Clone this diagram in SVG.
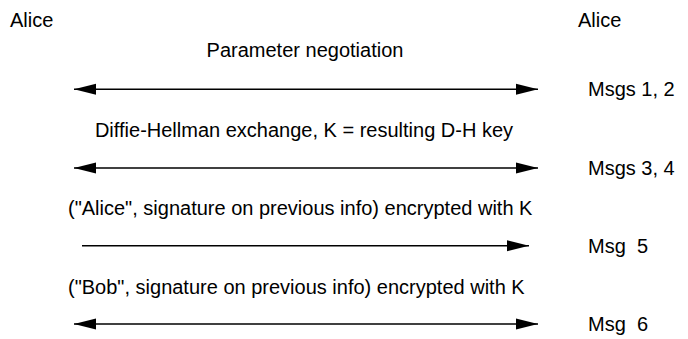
<svg xmlns="http://www.w3.org/2000/svg" width="688" height="339" viewBox="0 0 688 339">
<style>
text{font-family:"Liberation Sans",Arial,sans-serif;font-size:20px;fill:#000}
.c{text-anchor:middle}
.ln{stroke:#000;stroke-width:1.6;fill:none}
</style>
<defs>
<marker id="ah" markerUnits="userSpaceOnUse" markerWidth="22" markerHeight="12" refX="22" refY="6" orient="auto-start-reverse" viewBox="0 0 22 12">
<path d="M0,0.5 L22,6 L0,11.5 z" fill="#000"/>
</marker>
</defs>
<rect width="688" height="339" fill="#fff"/>
<g id="alice-left"><text x="10" y="27">Alice</text></g>
<g id="alice-right"><text x="578" y="27">Alice</text></g>
<g id="connectors">
<line class="ln" x1="74" y1="89.3" x2="538" y2="89.3" marker-start="url(#ah)" marker-end="url(#ah)"/>
<line class="ln" x1="74" y1="168" x2="538" y2="168" marker-start="url(#ah)" marker-end="url(#ah)"/>
<line class="ln" x1="82" y1="245.7" x2="529" y2="245.7" marker-end="url(#ah)"/>
<line class="ln" x1="74" y1="324" x2="538" y2="324" marker-start="url(#ah)" marker-end="url(#ah)"/>
</g>
<g id="msg12">
<text class="c" x="305" y="57">Parameter negotiation</text>
<text x="588" y="96">Msgs 1, 2</text>
</g>
<g id="msg34">
<text class="c" x="304" y="137">Diffie-Hellman exchange, K = resulting D-H key</text>
<text x="588" y="175">Msgs 3, 4</text>
</g>
<g id="msg5">
<text x="68" y="215">("Alice", signature on previous info) encrypted with K</text>
<text x="588" y="253" xml:space="preserve">Msg  5</text>
</g>
<g id="msg6">
<text x="68" y="294">("Bob", signature on previous info) encrypted with K</text>
<text x="588" y="331" xml:space="preserve">Msg  6</text>
</g>
</svg>
